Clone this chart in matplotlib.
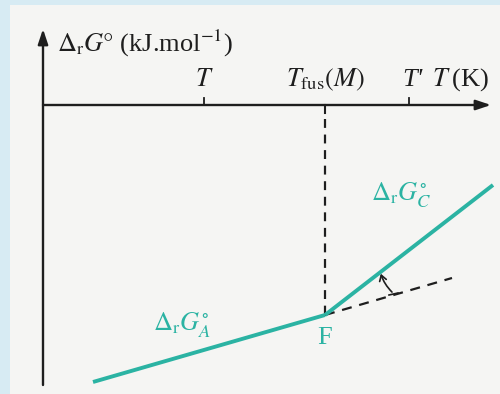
import matplotlib
matplotlib.use("Agg")
import matplotlib.pyplot as plt
from matplotlib.patches import Rectangle, FancyArrowPatch

plt.rcParams['font.family'] = ['Liberation Serif', 'DejaVu Serif']
plt.rcParams['mathtext.fontset'] = 'stix'

# Temperature marks along the T axis (arbitrary units, origin at the vertical axis)
tick_names = ["T", "T_fus", "T'"]
tick_pos = [161, 282, 366]

# Ellingham segments: A below the melting point, C above it
line_A_x = [50, 282]
line_A_y = [-277, -210]
line_C_x = [282, 450]
line_C_y = [-210, -80]
# continuation of A beyond the melting point (dashed)
ext_A_x = [282, 409]
ext_A_y = [-210, -173]

TEAL = "#2bb3a3"
INK = "#1e1e1e"
FS = 19

fig = plt.figure(figsize=(5.0, 3.94), dpi=100)
fig.patch.set_facecolor("#d7ebf3")
ax = fig.add_axes([0, 0, 1, 1])
ax.set_xlim(-43, 457)
ax.set_ylim(-289, 105)
ax.axis("off")

# page area
ax.add_patch(Rectangle((-33, -289), 490, 389, facecolor="#f5f5f3",
                       edgecolor="none", zorder=0))

# axes with arrows
ax.annotate("", xy=(448, 0), xytext=(0, 0),
            arrowprops=dict(arrowstyle="-|>,head_length=0.9,head_width=0.3",
                            color=INK, lw=1.7, shrinkA=0, shrinkB=0))
ax.annotate("", xy=(0, 76), xytext=(0, -280),
            arrowprops=dict(arrowstyle="-|>,head_length=0.9,head_width=0.3",
                            color=INK, lw=1.7, shrinkA=0, shrinkB=0))

# ticks: T and T' above the axis, melting point below
ax.plot([tick_pos[0]] * 2, [0, 7], color=INK, lw=1.3)
ax.plot([tick_pos[2]] * 2, [0, 7], color=INK, lw=1.3)
ax.plot([tick_pos[1]] * 2, [0, -8], color=INK, lw=1.5)

ax.text(tick_pos[0], 25, "$T$", fontsize=FS, ha="center", va="center", color=INK)
ax.text(tick_pos[1], 25, r"$T_{\mathrm{fus}}(M)$", fontsize=FS, ha="center",
        va="center", color=INK)
ax.text(tick_pos[2] + 3, 25, "T'", fontsize=FS, style="italic", ha="center",
        va="center", color=INK)
ax.text(418, 25, r"$T\;$(K)", fontsize=FS, ha="center", va="center", color=INK)
ax.text(14, 62, r"$\Delta_{\mathrm{r}}G\degree$ (kJ.mol$^{-1}$)", fontsize=FS,
        ha="left", va="center", color=INK)

# vertical dashed line at the melting point
ax.plot([tick_pos[1]] * 2, [-14, line_A_y[1]], color=INK, lw=1.6,
        dashes=(4, 3))
ax.plot(ext_A_x, ext_A_y, color=INK, lw=1.6, dashes=(4.5, 3.5))

ax.plot(line_A_x, line_A_y, color=TEAL, lw=2.8, solid_capstyle="butt")
ax.plot(line_C_x, line_C_y, color=TEAL, lw=2.8, solid_capstyle="butt")

# curved arrow showing the change of slope
arr = FancyArrowPatch((351, -189), (337, -166),
                      connectionstyle="arc3,rad=-0.15",
                      arrowstyle="->,head_length=4,head_width=2.5",
                      color=INK, lw=1.2)
ax.add_patch(arr)
ax.plot([346, 355], [-190, -188], color=INK, lw=1.2)

ax.text(358, -90, r"$\Delta_{\mathrm{r}}G^{\circ}_{C}$", fontsize=FS,
        ha="center", va="center", color=TEAL)
ax.text(139, -220, r"$\Delta_{\mathrm{r}}G^{\circ}_{A}$", fontsize=FS,
        ha="center", va="center", color=TEAL)
ax.text(282, -233, "F", fontsize=FS, ha="center", va="center", color=TEAL)

fig.savefig("out.png", dpi=100, facecolor=fig.get_facecolor())
